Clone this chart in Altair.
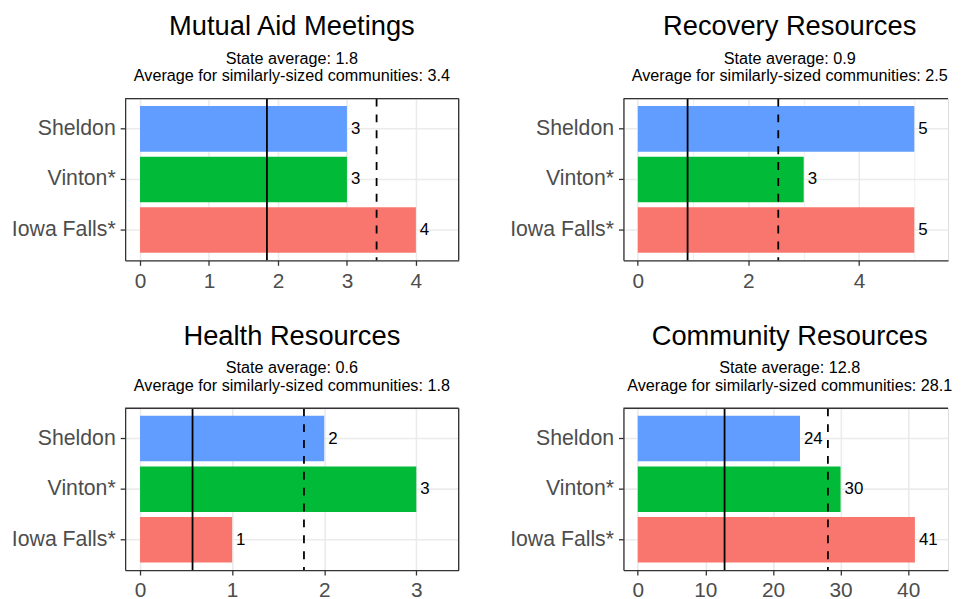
import altair as alt
import pandas as pd

communities = ["Sheldon", "Vinton*", "Iowa Falls*"]
bar_colors = ["#619CFF", "#00BA38", "#F8766D"]

panel_titles = ["Mutual Aid Meetings", "Recovery Resources", "Health Resources", "Community Resources"]
mutual_aid_meetings = [3, 3, 4]
recovery_resources = [5, 3, 5]
health_resources = [2, 3, 1]
community_resources = [24, 30, 41]
state_average = [1.84, 0.90, 0.57, 12.84]
similar_average = [3.43, 2.54, 1.78, 28.13]

major_ticks = [[0, 1, 2, 3, 4], [0, 2, 4], [0, 1, 2, 3], [0, 10, 20, 30, 40]]
minor_ticks = [[0.5, 1.5, 2.5, 3.5, 4.5], [1, 3, 5], [0.5, 1.5, 2.5], [5, 15, 25, 35, 45]]
x_domains = [[-0.216, 4.62], [-0.26, 5.61], [-0.162, 3.46], [-2.12, 45.9]]

FONT = "Liberation Sans"
FRAME = "#333333"
GRID = "#EBEBEB"
LABEL = "#4D4D4D"
H = 163


def panel(idx, values, width, right_side):
    df = pd.DataFrame({"community": communities, "value": values,
                       "label": [str(v) for v in values]})
    major = major_ticks[idx]
    allv = sorted(major + minor_ticks[idx])
    test = f"indexof({major}, datum.value) >= 0"
    xscale = alt.Scale(domain=x_domains[idx], nice=False, zero=False)
    xaxis = alt.Axis(values=allv, title=None, format="d",
                     labelExpr=f"{test} ? datum.label : ''",
                     grid=True, gridColor=GRID,
                     gridWidth={"condition": {"test": test, "value": 1.6}, "value": 0.8},
                     tickOpacity={"condition": {"test": test, "value": 1}, "value": 0},
                     tickColor=FRAME, tickSize=5, tickWidth=1.3,
                     domain=True, domainColor=FRAME, domainWidth=1.3,
                     labelFont=FONT, labelFontSize=21, labelColor=LABEL, labelPadding=5,
                     labelOverlap=False, labelFlush=False)
    yaxis = alt.Axis(title=None, grid=True, gridColor=GRID, gridWidth=1.6, bandPosition=0.5,
                     tickColor=FRAME, tickSize=5, tickWidth=1.3,
                     domain=True, domainColor=FRAME, domainWidth=1.3,
                     labelFont=FONT, labelFontSize=21.4, labelColor=LABEL, labelPadding=5)
    y = alt.Y("community:N", sort=communities,
              scale=alt.Scale(domain=communities, paddingInner=0.1, paddingOuter=0.15), axis=yaxis)
    base = alt.Chart(df)
    bars = base.mark_bar().encode(
        y=y,
        x=alt.X("value:Q", scale=xscale, axis=xaxis),
        color=alt.Color("community:N", scale=alt.Scale(domain=communities, range=bar_colors), legend=None),
    )
    text = base.mark_text(align="left", baseline="middle", dx=4, fontSize=17, font=FONT,
                          color="black").encode(y=y, x=alt.X("value:Q", scale=xscale), text="label:N")
    sdf = pd.DataFrame({"v": [state_average[idx]]})
    mdf = pd.DataFrame({"v": [similar_average[idx]]})
    state = alt.Chart(sdf).mark_rule(color="black", strokeWidth=1.8).encode(
        x=alt.X("v:Q", scale=xscale))
    similar = alt.Chart(mdf).mark_rule(color="black", strokeWidth=1.8, strokeDash=[8, 8]).encode(
        x=alt.X("v:Q", scale=xscale))
    # panel frame: top edge (and right edge for the left column; the right column is cut off)
    top_edge = alt.Chart(sdf).mark_rule(color=FRAME, strokeWidth=1.3).encode(
        x=alt.value(0), x2=alt.value(width), y=alt.value(0))
    layers = [bars, state, similar, text, top_edge]
    if not right_side:
        right_edge = alt.Chart(sdf).mark_rule(color=FRAME, strokeWidth=1.3).encode(
            x=alt.value(width), y=alt.value(0), y2=alt.value(H))
        layers.append(right_edge)
    title = alt.TitleParams(
        text=panel_titles[idx],
        subtitle=[f"State average: {state_average[idx]:.1f}",
                  f"Average for similarly-sized communities: {similar_average[idx]:.1f}"],
        font=FONT, fontSize=27.5, fontWeight="normal", color="black",
        subtitleFont=FONT, subtitleFontSize=16.3, subtitleColor="black",
        subtitleLineHeight=18, subtitlePadding=10, anchor="middle", frame="group", offset=13,
        dx=4 if right_side else 0,
    )
    return alt.layer(*layers).properties(width=width, height=H, title=title)


p1 = panel(0, mutual_aid_meetings, 336, False)
p2 = panel(1, recovery_resources, 327, True)
p3 = panel(2, health_resources, 336, False)
p4 = panel(3, community_resources, 327, True)

top = alt.hconcat(p1, p2, spacing=48)
bottom = alt.hconcat(p3, p4, spacing=48)
chart = alt.vconcat(top, bottom, spacing=30).properties(
    padding={"left": 2, "top": 2, "right": 0, "bottom": 0}
).configure_view(stroke="transparent").configure(background="white")

chart.save("out.html", embed_options={"renderer": "svg", "actions": False})
